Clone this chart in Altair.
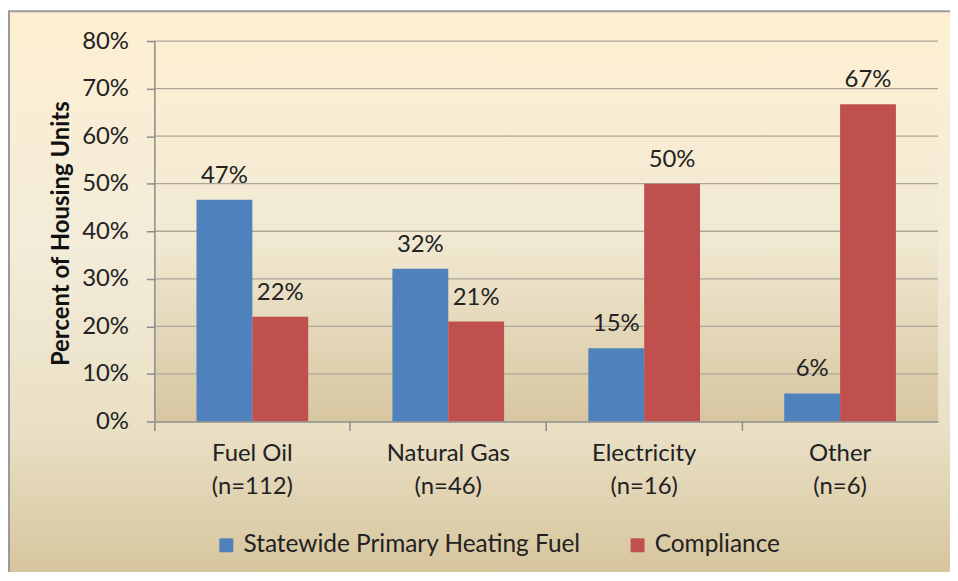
import altair as alt
import pandas as pd

categories = ["Fuel Oil", "Natural Gas", "Electricity", "Other"]
sample_sizes = ["(n=112)", "(n=46)", "(n=16)", "(n=6)"]
series_names = ["Statewide Primary Heating Fuel", "Compliance"]
statewide = [46.6, 32.1, 15.4, 5.9]
compliance = [22.0, 21.0, 50.0, 66.7]
y_ticks = [0, 10, 20, 30, 40, 50, 60, 70, 80]
bar_colors = ["#4F81BD", "#C0504D"]

rows = []
cat_order = []
for c, n, s, cp in zip(categories, sample_sizes, statewide, compliance):
    key = c + "|" + n
    cat_order.append(key)
    rows.append({"cat": key, "series": series_names[0], "value": s})
    rows.append({"cat": key, "series": series_names[1], "value": cp})
df = pd.DataFrame(rows)

W, H = 787, 382
FONT = "Lato"
TXT = "#222222"
AXC = "#8C8C8C"

x_scale = alt.Scale(domain=cat_order, paddingInner=0.43, paddingOuter=0.215)
y_scale = alt.Scale(domain=[0, 80], nice=False)
off_scale = alt.Scale(domain=series_names, paddingInner=0, paddingOuter=0)

y_axis = alt.Axis(values=y_ticks, labelExpr="datum.value + '%'", grid=False,
                  domainColor=AXC, domainWidth=1.5, tickColor=AXC, tickWidth=1.5,
                  tickSize=8, labelPadding=18, labelFont=FONT, labelFontSize=24,
                  labelColor=TXT, title="Percent of Housing Units",
                  titleFont=FONT, titleFontSize=24, titleFontWeight="bold",
                  titleColor="#111111", titleX=-81, titleY=H / 2 + 2,
                  titleAngle=270, titleBaseline="bottom", titleAlign="center",
                  orient="left", zindex=1)

outer_grad = alt.LinearGradient(
    gradient="linear", x1=0, x2=0, y1=0, y2=1,
    stops=[
        alt.GradientStop(offset=0, color="#FEEFD1"),
        alt.GradientStop(offset=0.4, color="#F3ECD9"),
        alt.GradientStop(offset=0.72, color="#E9DFC4"),
        alt.GradientStop(offset=1, color="#D3C197"),
    ],
)
plot_grad = alt.LinearGradient(
    gradient="linear", x1=0, x2=0, y1=0, y2=1,
    stops=[
        alt.GradientStop(offset=0, color="#FDEFD2"),
        alt.GradientStop(offset=0.5, color="#F2EAD4"),
        alt.GradientStop(offset=1, color="#D7C6A0"),
    ],
)

one = pd.DataFrame({"k": [0]})

bg_outer = alt.Chart(one).mark_rect(fill=outer_grad, stroke="#9A9A9A", strokeWidth=2).encode(
    x=alt.value(-146), x2=alt.value(830), y=alt.value(-30), y2=alt.value(560)
)
bg_plot = alt.Chart(one).mark_rect(fill=plot_grad).encode(
    x=alt.value(0), x2=alt.value(W), y=alt.value(0), y2=alt.value(H)
)

grid = alt.Chart(pd.DataFrame({"v": y_ticks[1:]})).mark_rule(
    color="#ADA799", strokeWidth=1.3
).encode(
    y=alt.Y("v:Q", scale=y_scale, axis=y_axis, title="Percent of Housing Units"),
    x=alt.value(0), x2=alt.value(W),
)

bars = alt.Chart(df).mark_bar().encode(
    x=alt.X("cat:N", scale=x_scale, sort=cat_order, title=None,
            axis=alt.Axis(labelExpr="split(datum.label, '|')", ticks=False, tickSize=0,
                          domain=False, grid=False, labelAngle=0, labelFont=FONT,
                          labelFontSize=24, labelColor=TXT, labelPadding=20,
                          labelLineHeight=33, orient="bottom", zindex=1)),
    xOffset=alt.XOffset("series:N", sort=series_names, scale=off_scale),
    y=alt.Y("value:Q", scale=y_scale, axis=y_axis, title="Percent of Housing Units"),
    color=alt.Color("series:N", scale=alt.Scale(domain=series_names, range=bar_colors),
                    legend=alt.Legend(title=None, orient="none", legendX=60, legendY=494,
                                      direction="horizontal", symbolType="square",
                                      symbolSize=196, symbolStrokeWidth=0,
                                      labelFont=FONT, labelFontSize=24.5, labelColor=TXT,
                                      labelLimit=500, labelOffset=5, columnPadding=44,
                                      zindex=1)),
)

labels = alt.Chart(df).transform_calculate(
    label="format(datum.value, '.0f') + '%'"
).mark_text(baseline="bottom", dy=-12, font=FONT, fontSize=24, color=TXT).encode(
    x=alt.X("cat:N", scale=x_scale, sort=cat_order, title=None,
            axis=alt.Axis(labels=False, ticks=True, tickSize=9, tickColor=AXC, tickWidth=1.5,
                          bandPosition=-0.375, domain=True, domainColor=AXC,
                          domainWidth=1.5, grid=False, orient="bottom", zindex=1)),
    xOffset=alt.XOffset("series:N", sort=series_names, scale=off_scale),
    y=alt.Y("value:Q", scale=y_scale, axis=y_axis, title="Percent of Housing Units"),
    text="label:N",
)

chart = alt.layer(bg_outer, bg_plot, grid, bars, labels).resolve_axis(
    x="independent"
).properties(
    width=W, height=H,
    autosize=alt.AutoSizeParams(type="none"),
    padding={"left": 147, "top": 32, "right": 12, "bottom": 150},
).configure_view(stroke=None).configure(background="white")

chart.save("out.html", embed_options={"renderer": "svg", "actions": False})
